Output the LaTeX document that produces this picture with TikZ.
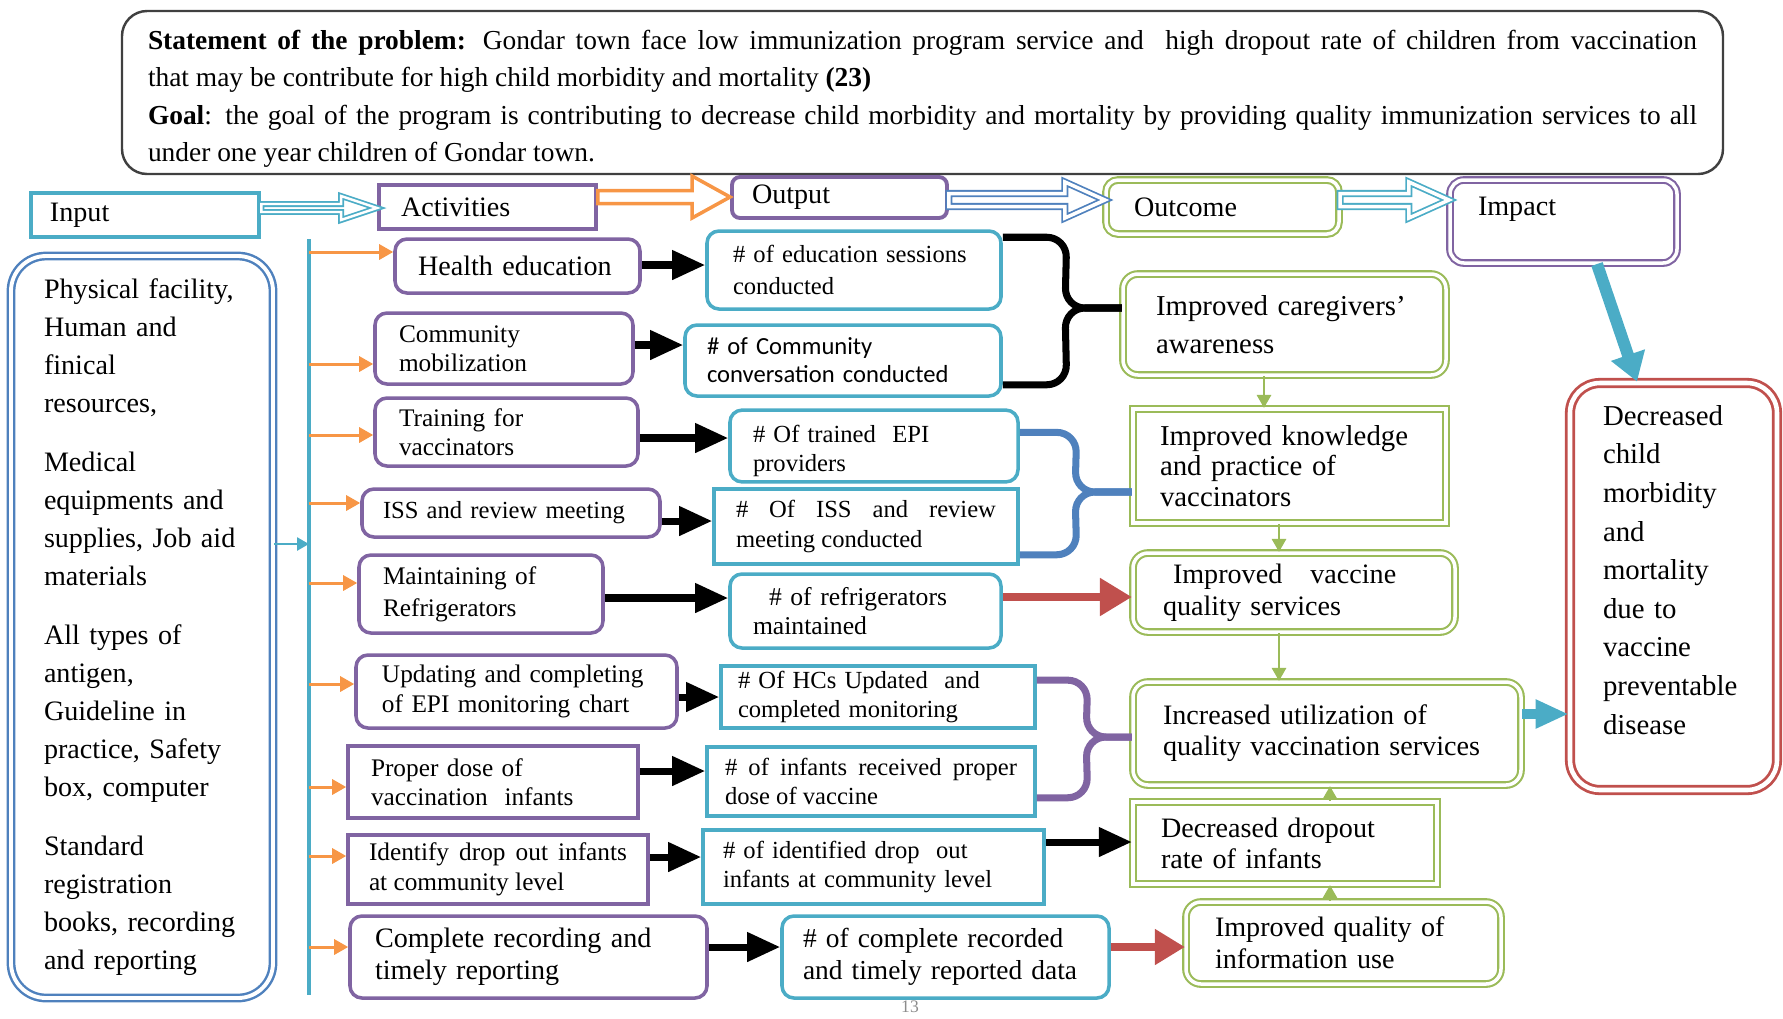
\documentclass[tikz,border=0pt]{standalone}
\usepackage{fontspec}
\setmainfont{Liberation Serif}
\newfontfamily\calibrifont{Carlito}
\usepackage{tikz}
\definecolor{epipurple}{HTML}{8064A2}
\definecolor{epiteal}{HTML}{4BACC6}
\definecolor{epiblue}{HTML}{4F81BD}
\definecolor{epigreen}{HTML}{9BBB59}
\definecolor{epired}{HTML}{C0504D}
\definecolor{epiorange}{HTML}{F79646}
\usetikzlibrary{positioning, calc, arrows.meta}
\tikzstyle{push} = [line width=2pt,-{Triangle[length=0.33cm,width=0.28cm]}]
\tikzstyle{feed} = [epiorange,line width=0.85pt,-{Triangle[length=0.14cm,width=0.15cm]}]
\tikzset{wh/.style n args={3}{minimum width=#1cm, minimum height=#2cm, inner xsep=#3cm, text width=#1cm-2*#3cm}}
% block arrow between two header boxes
\newcommand{\hollowarrow}[7]{%
  \coordinate (ha) at (#2.east |- 0,#4);
  \coordinate (hb) at (#3.west |- 0,#4);
  \draw[#1, fill=white] ($(ha)+(0,-#5)$) -- ($(hb)+(-#7,-#5)$) -- ($(hb)+(-#7,-#6)$) -- (hb)
    -- ($(hb)+(-#7,#6)$) -- ($(hb)+(-#7,#5)$) -- ($(ha)+(0,#5)$) -- cycle;
}

\begin{document}
\begin{tikzpicture}[x=1cm,y=-1cm]
    \tikzstyle{every node}=[inner ysep=0.05cm]
    \tikzstyle{prob} = [draw=black!75, line width=0.7pt, rounded corners=0.25cm, align=justify, font=\fontsize{7.8}{10.7}\selectfont]
    \tikzstyle{head} = [line width=1.1pt, align=left, font=\fontsize{8}{9}\selectfont]
    \tikzstyle{dbl} = [line width=0.6pt, double=white, double distance=1pt]
    \tikzstyle{act} = [draw=epipurple, line width=1pt, rounded corners=0.12cm, align=left, font=\fontsize{7.2}{8.4}\selectfont]
    \tikzstyle{outp} = [draw=epiteal, line width=1pt, rounded corners=0.12cm, align=left, font=\fontsize{7}{8.4}\selectfont]
    \tikzstyle{outc} = [draw=epigreen, dbl, rounded corners=0.15cm, align=left, font=\fontsize{8}{9}\selectfont]
    \tikzstyle{brace} = [line width=2pt, rounded corners=0.2cm]
    \tikzstyle{rise} = [epigreen, line width=0.8pt, -{Triangle[length=0.13cm,width=0.14cm]}]
    \useasboundingbox (0,0) rectangle (17.83,10.18);

    % problem and goal
    \node[prob, text height=0.32cm, wh={16.01}{1.63}{0.26}] (problem) at (9.225,0.925) {\textbf{Statement of the problem:} Gondar town face low immunization program service and\ \ high dropout rate of children from vaccination\linebreak
    that may be contribute for high child morbidity and mortality \textbf{(23)}\\
    \textbf{Goal}: the goal of the program is contributing to decrease child morbidity and mortality by providing quality immunization services to all\linebreak
    under one year children of Gondar town.};

    % header row
    \node[head, draw=epiteal, line width=1.3pt, wh={2.28}{0.44}{0.19}] (input) at (1.45,2.15) {Input};
    \node[head, draw=epipurple, wh={2.17}{0.44}{0.22}] (activities) at (4.875,2.07) {Activities};
    \node[head, draw=epipurple, rounded corners=0.08cm, wh={2.15}{0.41}{0.2}] (output) at (8.395,1.975) {Output};
    \node[head, draw=epigreen, dbl, rounded corners=0.12cm, wh={2.33}{0.54}{0.28}] (outcome) at (12.225,2.07) {Outcome};
    \node[head, draw=epipurple, dbl, rounded corners=0.14cm, text depth=0.3cm, wh={2.27}{0.83}{0.28}] (impact) at (15.635,2.215) {Impact};

    \hollowarrow{epiteal, dbl, line width=0.5pt, double distance=0.7pt}{input}{activities}{2.08}{0.04}{0.12}{0.36}
    \hollowarrow{epiorange, line width=1pt}{activities}{output}{1.97}{0.065}{0.21}{0.38}
    \hollowarrow{epiblue, dbl, line width=0.5pt}{output}{outcome}{2.00}{0.065}{0.18}{0.4}
    \hollowarrow{epiteal, dbl, line width=0.5pt}{outcome}{impact}{2.00}{0.065}{0.18}{0.4}

    % inputs
    \node[draw=epiblue, line width=0.7pt, double=white, double distance=1.1pt, rounded corners=0.35cm, align=left,
          font=\fontsize{8}{10.8}\selectfont, wh={2.62}{7.42}{0.33}] (inputs) at (1.42,6.27)
        {Physical facility,\\ Human and\\ finical\\ resources,\\[6pt] Medical\\ equipments and\\ supplies, Job aid\\ materials\\[6pt]
         All types of\\ antigen,\\ Guideline in\\ practice, Safety\\ box, computer\\[6pt] Standard\\ registration\\ books, recording\\ and reporting};
    \coordinate (vtop) at (3.09,2.39);
    \coordinate (vbot) at (3.09,9.95);
    \draw[epiteal, line width=0.9pt] (vtop) -- (vbot);
    \draw[epiteal, line width=0.75pt, -{Triangle[length=0.12cm,width=0.13cm]}] (inputs.east |- 0,5.44) -- (vtop |- 0,5.44);

    % activities
    \node[act, font=\fontsize{8}{9}\selectfont, wh={2.45}{0.54}{0.23}] (act1) at (5.175,2.66) {Health education};
    \node[act, wh={2.58}{0.71}{0.24}] (act2) at (5.04,3.485) {Community\\ mobilization};
    \node[act, wh={2.63}{0.68}{0.24}] (act3) at (5.065,4.32) {Training for\\ vaccinators};
    \node[act, font=\fontsize{7}{8.4}\selectfont, wh={2.98}{0.48}{0.21}] (act4) at (5.11,5.13) {ISS and review meeting};
    \node[act, font=\fontsize{7.2}{9}\selectfont, wh={2.44}{0.78}{0.24}] (act5) at (4.81,5.94) {Maintaining of\\ Refrigerators};
    \node[act, wh={3.21}{0.73}{0.26}] (act6) at (5.165,6.915) {Updating and completing\\ of EPI monitoring chart};
    \node[act, sharp corners, wh={2.90}{0.72}{0.23}] (act7) at (4.93,7.82) {Proper dose of\\ vaccination\ \ infants};
    \node[act, sharp corners, align=justify, wh={3.00}{0.69}{0.21}] (act8) at (4.98,8.695) {Identify drop out infants\linebreak at community level};
    \node[act, font=\fontsize{8}{9.2}\selectfont, wh={3.57}{0.82}{0.25}] (act9) at (5.285,9.57) {Complete recording and\\ timely reporting};

    \foreach \n/\y in {act1/2.52, act2/3.64, act3/4.35, act4/5.03, act5/5.83, act6/6.84, act7/7.87, act8/8.56, act9/9.47}
        \draw[feed] (vtop |- 0,\y) -- (\n.west |- 0,\y);

    % outputs
    \node[outp, font=\fontsize{7}{9}\selectfont, wh={2.94}{0.78}{0.26}] (out1) at (8.54,2.70) {\# of education sessions\\ conducted};
    \node[outp, font=\calibrifont\fontsize{7}{8}\selectfont, wh={3.16}{0.71}{0.22}] (out2) at (8.43,3.605) {\# of Community\\ conversation conducted};
    \node[outp, text height=0.27cm, wh={2.88}{0.64}{0.23}] (out3) at (8.74,4.46) {\# Of trained\ \ EPI\\ providers};
    \node[outp, sharp corners, align=justify, wh={3.04}{0.75}{0.22}] (out4) at (8.66,5.265) {\# Of ISS and review\linebreak meeting conducted};
    \node[outp, font=\fontsize{7.3}{8.4}\selectfont, wh={2.71}{0.74}{0.23}] (out5) at (8.655,6.11) {\hspace*{0.16cm}\# of refrigerators\\ maintained};
    \node[outp, sharp corners, wh={3.14}{0.62}{0.17}] (out6) at (8.78,6.97) {\# Of HCs Updated\ \ and\\ completed monitoring};
    \node[outp, sharp corners, align=justify, wh={3.28}{0.69}{0.18}] (out7) at (8.71,7.815) {\# of infants received proper\linebreak dose of vaccine};
    \node[outp, sharp corners, wh={3.41}{0.74}{0.20}] (out8) at (8.735,8.67) {\# of identified drop\ \ out\\ infants at community level};
    \node[outp, font=\fontsize{7.8}{9}\selectfont, wh={3.27}{0.82}{0.21}] (out9) at (9.455,9.57) {\# of complete recorded\\ and timely reported data};

    \foreach \a/\b/\y in {act1/out1/2.65, act2/out2/3.45, act3/out3/4.38, act4/out4/5.21, act5/out5/5.98, act6/out6/6.97, act7/out7/7.71, act8/out8/8.57, act9/out9/9.47}
        \draw[push] (\a.east |- 0,\y) -- (\b.west |- 0,\y);

    % outcomes
    \node[outc, font=\fontsize{8.2}{10.7}\selectfont, wh={3.23}{1.01}{0.33}] (care) at (12.845,3.245) {Improved caregivers’\\ awareness};
    \node[outc, sharp corners, font=\fontsize{8.2}{8.6}\selectfont, wh={3.13}{1.14}{0.27}] (know) at (12.895,4.66) {Improved knowledge\\ and practice of\\ vaccinators};
    \node[outc, wh={3.22}{0.79}{0.30}] (vqual) at (12.94,5.925) {\hspace*{0.1cm}Improved\ \ \ vaccine\\ quality services};
    \node[outc, font=\fontsize{8}{8.8}\selectfont, wh={3.88}{1.03}{0.30}] (util) at (13.27,7.335) {Increased utilization of\\ quality vaccination services};
    \node[outc, sharp corners, font=\fontsize{8}{8.8}\selectfont, wh={3.04}{0.82}{0.28}] (drop) at (12.85,8.43) {Decreased dropout\\ rate of infants};
    \node[outc, wh={3.15}{0.82}{0.29}] (info) at (13.435,9.43) {Improved quality of\\ information use};

    % brackets from outputs to outcomes
    \draw[brace, black] ([yshift=-0.08cm]out1.north east) -- ++(0.64,0) -- (10.65,3.08) -- (care.west |- 0,3.08);
    \draw[brace, black] ([yshift=0.13cm]out2.south east) -- ++(0.64,0) -- (10.65,3.08) -- (care.west |- 0,3.08);
    \draw[brace, epiblue] ([yshift=-0.24cm]out3.north east) -- ++(0.57,0) -- (10.75,4.92) -- (know.west |- 0,4.92);
    \draw[brace, epiblue] ([yshift=0.11cm]out4.south east) -- ++(0.57,0) -- (10.75,4.92) -- (know.west |- 0,4.92);
    \draw[brace, epipurple] ([yshift=-0.16cm]out6.north east) -- ++(0.51,0) -- (10.86,7.37) -- (util.west |- 0,7.37);
    \draw[brace, epipurple] ([yshift=0.2cm]out7.south east) -- ++(0.51,0) -- (10.86,7.37) -- (util.west |- 0,7.37);

    \draw[epired, line width=2.3pt, -{Triangle[length=0.32cm,width=0.36cm]}] (out5.east |- 0,5.97) -- (vqual.west |- 0,5.97);
    \draw[epired, line width=2.3pt, -{Triangle[length=0.3cm,width=0.34cm]}] (out9.east |- 0,9.47) -- (info.west |- 0,9.47);
    \draw[push] (out8.east |- 0,8.42) -- (drop.west |- 0,8.42);

    \draw[rise] (care.south -| 12.64,0) -- (know.north -| 12.64,0);
    \draw[rise] (know.south -| 12.79,0) -- (vqual.north -| 12.79,0);
    \draw[rise] (vqual.south -| 12.79,0) -- (util.north -| 12.79,0);
    \draw[rise] (drop.north -| 13.30,0) -- (util.south -| 13.30,0);
    \draw[rise] (info.north -| 13.30,0) -- (drop.south -| 13.30,0);

    % impact
    \node[draw=epired, line width=0.8pt, double=white, double distance=1.3pt, rounded corners=0.3cm, align=left,
          font=\fontsize{8.2}{11}\selectfont, wh={2.07}{4.07}{0.33}] (final) at (16.735,5.865)
        {Decreased\\ child\\ morbidity\\ and\\ mortality\\ due to\\ vaccine\\ preventable\\ disease\\[-0.05cm]\mbox{}};
    \draw[epiteal, line width=2.8pt, -{Triangle[length=0.33cm,width=0.27cm]}] (util.east |- 0,7.14) -- (final.west |- 0,7.14);
    \draw[epiteal, line width=3.4pt, -{Triangle[length=0.28cm,width=0.34cm]}] ([xshift=0.335cm]impact.south) -- ([xshift=-0.365cm]final.north);

    \node[text=black!45, font=\fontsize{5}{6}\selectfont] (pagenum) at (9.10,10.07) {13};
\end{tikzpicture}
\end{document}
